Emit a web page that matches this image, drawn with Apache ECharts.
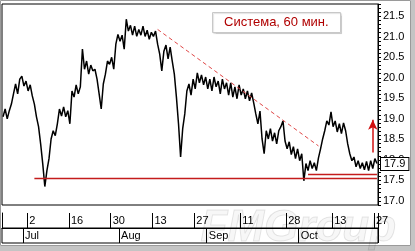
<!DOCTYPE html>
<html><head><meta charset="utf-8">
<script src="https://cdn.jsdelivr.net/npm/echarts@6/dist/echarts.min.js"></script>
<style>html,body{margin:0;padding:0;background:#fff}#c{width:415px;height:251px}</style>
</head><body><div id="c"></div>
<script>
// ---- data ----
const slotsPerDay = 2;
const prices = [
19.05,19.24,19.00,19.20,19.36,19.61,19.85,19.61,19.97,20.04,
19.80,19.92,19.68,19.83,19.56,19.36,19.05,18.81,18.39,17.91,
17.35,17.74,18.03,18.51,18.71,18.59,18.88,19.24,19.07,19.29,
19.05,19.20,18.88,19.68,19.53,19.83,19.61,19.78,20.70,20.21,
20.41,20.09,20.31,20.17,20.21,19.97,19.61,19.24,19.85,
20.09,20.41,20.33,20.50,20.21,20.82,21.06,20.89,21.04,20.70,
21.43,21.14,21.28,21.04,21.26,21.01,21.18,21.04,21.26,21.01,
21.16,20.94,21.11,21.01,21.14,20.82,20.58,20.17,20.65,20.80,
20.46,20.75,20.41,20.09,19.53,18.88,18.07,18.76,19.12,19.68,
19.85,19.58,19.97,19.73,20.12,19.88,20.07,19.83,20.02,19.73,
19.97,19.68,20.02,19.78,19.92,19.61,19.97,19.73,19.88,19.58,
19.88,19.53,19.78,19.49,19.83,19.58,19.73,19.49,19.68,19.44,
19.63,19.39,19.12,18.88,19.19,18.51,18.15,18.71,18.51,18.76,
18.46,18.66,18.39,18.71,18.81,18.95,18.46,18.27,18.44,
18.13,18.32,18.03,18.27,17.98,18.15,17.49,17.91,17.74,17.98,
17.79,17.93,17.74,18.05,18.27,18.51,18.71,18.95,18.85,19.17,
18.81,18.95,18.68,18.88,18.64,18.90,18.71,18.39,18.15,17.98,
18.07,17.83,17.98,17.79,17.93,17.76,17.96,17.74,17.98,17.79,18.03,17.91
];
const dayTickDates  = ['2009-07-02','2009-07-16','2009-07-30','2009-08-13','2009-08-27','2009-09-11','2009-09-28','2009-10-13','2009-10-27'];
const dayTickLabels = ['2','16','30','13','27','11','28','13','27'];
const monthTickDates  = ['2009-07-01','2009-08-03','2009-09-01','2009-10-01'];
const monthTickLabels = ['Jul','Aug','Sep','Oct'];
const lastPrice = 17.9;
const supportLevel = 17.54, supportFrom = 15;
const support2Level = 17.66, support2From = 146;
const trendFrom = [74, 21.18], trendTo = [151, 18.34];
const arrowAt = 177, arrowFrom = 18.18, arrowTo = 18.98;
const titleText = 'Система, 60 мин.';

// trading days (weekdays) 2009-06-24 .. 2009-10-27
const days = [];
for (let t = Date.UTC(2009,5,24); t <= Date.UTC(2009,9,27); t += 86400000) {
  const d = new Date(t), w = d.getUTCDay();
  if (w !== 0 && w !== 6) days.push(d.toISOString().slice(0,10));
}
const cats = [];
days.forEach(d => { for (let k = 0; k < slotsPerDay; k++) cats.push(d + ' ' + k); });

const FONT = 'Arial, "Liberation Sans", sans-serif';
const chart = echarts.init(document.getElementById('c'), null, {renderer:'canvas'});
const isDayTick = (i, v) => dayTickDates.indexOf(v) >= 0;
const isMonthTick = (i, v) => monthTickDates.indexOf(v) >= 0;
const redLine = {color: '#c41c1c', width: 1.3, type: 'solid', opacity: 1};

chart.setOption({
  animation: false,
  backgroundColor: '#fff',
  title: {
    text: titleText, left: 212, top: 12, padding: [4, 12, 4, 12],
    borderColor: '#c8c8c8', borderWidth: 1,
    shadowColor: 'rgba(0,0,0,0.12)', shadowOffsetX: 1, shadowOffsetY: 1, shadowBlur: 1,
    backgroundColor: '#fff',
    textStyle: {color: '#b00000', fontSize: 13, fontWeight: 'normal', fontFamily: FONT}
  },
  grid: [
    {left: 2, right: 37, top: 4, height: 201, show: true, borderColor: '#000', borderWidth: 1},
    {left: 2, right: 37, top: 213, height: 15, show: false},
    {left: 2, right: 37, top: 228, height: 15, show: true, borderColor: '#000', borderWidth: 1}
  ],
  xAxis: [
    {gridIndex: 0, type: 'category', data: cats, boundaryGap: true,
     axisLine: {show: false}, axisTick: {show: false}, axisLabel: {show: false}, splitLine: {show: false}},
    {gridIndex: 1, type: 'category', data: days, boundaryGap: true, position: 'top',
     axisLine: {show: true, lineStyle: {color: '#000', width: 1}}, axisTick: {show: false},
     splitLine: {show: true, interval: isDayTick, lineStyle: {color: '#000', width: 1}},
     axisLabel: {show: true, inside: true, interval: isDayTick, align: 'left', margin: 2,
       fontSize: 11, color: '#000', fontFamily: FONT,
       formatter: v => dayTickLabels[dayTickDates.indexOf(v)] || ''}},
    {gridIndex: 2, type: 'category', data: days, boundaryGap: true, position: 'top',
     axisLine: {show: false}, axisTick: {show: false},
     splitLine: {show: true, interval: isMonthTick, lineStyle: {color: '#000', width: 1}},
     axisLabel: {show: true, inside: true, interval: isMonthTick, align: 'left', margin: 2,
       fontSize: 11, color: '#000', fontFamily: FONT,
       formatter: v => monthTickLabels[monthTickDates.indexOf(v)] || ''}}
  ],
  yAxis: [
    {gridIndex: 0, type: 'value', position: 'right', min: 16.9, max: 21.8, interval: 0.1,
     axisLine: {show: true, lineStyle: {color: '#000'}},
     axisTick: {show: true, length: 3, lineStyle: {color: '#000'}},
     splitLine: {show: false},
     axisLabel: {margin: 5, fontSize: 11, color: '#000', fontFamily: FONT,
       formatter: v => (Math.abs(v*2 - Math.round(v*2)) < 1e-6 ? v.toFixed(1) : '')}},
    {gridIndex: 1, type: 'value', position: 'left',
     axisLine: {show: true, lineStyle: {color: '#000'}}, axisTick: {show: false},
     axisLabel: {show: false}, splitLine: {show: false}},
    {gridIndex: 2, type: 'value', show: false}
  ],
  series: [{
    type: 'line', xAxisIndex: 0, yAxisIndex: 0, data: prices, symbol: 'none',
    lineStyle: {color: '#000', width: 1.5},
    markLine: {
      silent: true, symbol: ['none', 'none'], animation: false, label: {show: false},
      lineStyle: {color: '#c41c1c', width: 1, type: 'solid'},
      data: [
        [{coord: [cats[trendFrom[0]], trendFrom[1]], lineStyle: {color: '#e04848', width: 1, type: [4, 3]}},
         {coord: [cats[trendTo[0]], trendTo[1]], lineStyle: {color: '#e04848', width: 1, type: [4, 3]}}],
        [{coord: [cats[supportFrom], supportLevel], lineStyle: redLine},
         {coord: [cats[cats.length-1], supportLevel], lineStyle: redLine}],
        [{coord: [cats[support2From], support2Level], lineStyle: redLine},
         {coord: [cats[cats.length-1], support2Level], lineStyle: redLine}],
        [{coord: [cats[arrowAt], arrowFrom], symbol: 'none', lineStyle: {color: '#d01010', width: 1.5, type: 'solid'}},
         {coord: [cats[arrowAt], arrowTo], symbol: 'arrow', symbolSize: [7, 10], lineStyle: {color: '#d01010', width: 1.5, type: 'solid'}}],
        {yAxis: lastPrice, lineStyle: {color: 'rgba(0,0,0,0)', width: 0},
         label: {show: true, position: 'end', distance: 3, formatter: lastPrice.toFixed(1),
           color: '#000', fontSize: 11, fontFamily: FONT, backgroundColor: '#fff',
           borderColor: '#000', borderWidth: 1, padding: [1, 3, 0, 3]}}
      ]
    }
  }],
  graphic: [
    {type: 'text', left: 200, top: 206, silent: true, z: 100,
     style: {text: 'FMGroup', font: 'italic bold 44px Arial', fill: 'rgba(0,0,0,0.03)', stroke: 'rgba(0,0,0,0.10)', lineWidth: 1}},
    {type: 'rect', silent: true, shape: {x: 411, y: 0, width: 4, height: 251}, style: {fill: '#c4c4c4'}},
    {type: 'rect', silent: true, shape: {x: 0, y: 246, width: 415, height: 5}, style: {fill: '#c4c4c4'}},
    {type: 'rect', silent: true, shape: {x: 0.5, y: 0.5, width: 410, height: 245}, style: {fill: 'none', stroke: '#9a9a9a', lineWidth: 1}}
  ]
});
</script></body></html>
